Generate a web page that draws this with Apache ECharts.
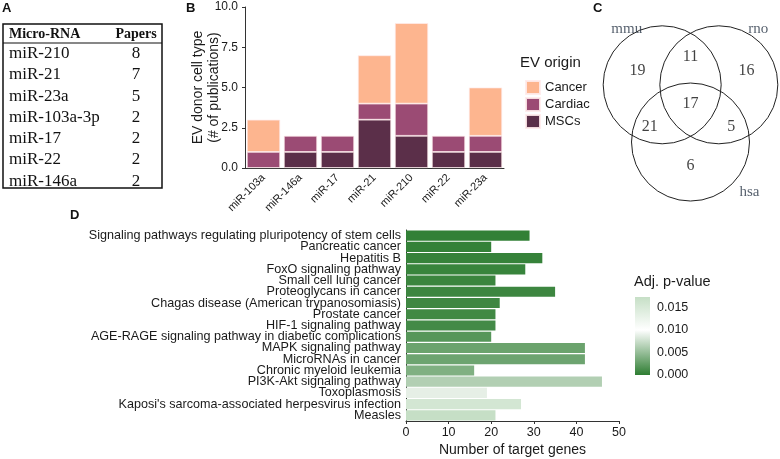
<!DOCTYPE html>
<html>
<head>
<meta charset="utf-8">
<script src="https://cdn.jsdelivr.net/npm/echarts/dist/echarts.min.js"></script>
<style>
  html, body { margin: 0; padding: 0; background: #fff; }
  #chart { width: 780px; height: 459px; }
</style>
</head>
<body>
<div id="chart"></div>
<script>
// panel A - table
const tableNames = ['miR-210', 'miR-21', 'miR-23a', 'miR-103a-3p', 'miR-17', 'miR-22', 'miR-146a'];
const tablePapers = [8, 7, 5, 2, 2, 2, 2];

// panel B - stacked bars
const bCategories = ['miR-103a', 'miR-146a', 'miR-17', 'miR-21', 'miR-210', 'miR-22', 'miR-23a'];
const bMSCs = [0, 1, 1, 3, 2, 1, 1];
const bCardiac = [1, 1, 1, 1, 2, 1, 1];
const bCancer = [2, 0, 0, 3, 5, 0, 3];

// panel C - venn
const vennSets = ['mmu', 'rno', 'hsa'];
const vennCx = [-0.48, 0.48, 0];
const vennCy = [0, 0, -0.97];
const vennR = [1, 1, 1];
const vennSetLabelX = [-1.08, 1.15, 1.0];
const vennSetLabelY = [0.95, 0.95, -1.82];
const vennCounts = [19, 11, 16, 17, 21, 5, 6];
const vennCountX = [-0.9, 0, 0.95, 0, -0.69, 0.69, 0];
const vennCountY = [0.24, 0.48, 0.24, -0.33, -0.71, -0.71, -1.37];

// panel D - KEGG pathways
const pathways = [
  'Signaling pathways regulating pluripotency of stem cells',
  'Pancreatic cancer',
  'Hepatitis B',
  'FoxO signaling pathway',
  'Small cell lung cancer',
  'Proteoglycans in cancer',
  'Chagas disease (American trypanosomiasis)',
  'Prostate cancer',
  'HIF-1 signaling pathway',
  'AGE-RAGE signaling pathway in diabetic complications',
  'MAPK signaling pathway',
  'MicroRNAs in cancer',
  'Chronic myeloid leukemia',
  'PI3K-Akt signaling pathway',
  'Toxoplasmosis',
  "Kaposi's sarcoma-associated herpesvirus infection",
  'Measles'
];
const geneCounts = [29, 20, 32, 28, 21, 35, 22, 21, 21, 20, 42, 42, 16, 46, 19, 27, 21];
const adjP = [0.0002, 0.0003, 0.0004, 0.0005, 0.0006, 0.0007, 0.0008, 0.0009, 0.0010,
  0.0019, 0.0029, 0.0030, 0.0039, 0.0063, 0.0088, 0.0156, 0.0173];

const pMax = Math.max(...adjP);
const pMid = 0.010;
const lowCol = [46, 125, 50], midCol = [255, 255, 255], highCol = [198, 223, 198];

function mix(a, b, t) {
  return 'rgb(' + a.map((v, i) => Math.round(v + (b[i] - v) * t)).join(',') + ')';
}
function pColor(p) {
  if (p <= pMid) return mix(lowCol, midCol, p / pMid);
  return mix(midCol, highCol, (p - pMid) / (pMax - pMid));
}

const chart = echarts.init(document.getElementById('chart'));
const txt = '#1a1a1a';
const axisLine = { show: true, lineStyle: { color: '#333', width: 1 } };
const noZero = arr => arr.map(v => v || null);
const barBorder = { borderColor: 'rgba(255,235,235,0.9)', borderWidth: 0.8 };

// table graphics
const tableGraphic = [
  { type: 'rect', shape: { x: 3, y: 24, width: 159, height: 164 },
    style: { fill: 'none', stroke: '#111', lineWidth: 1.5 } },
  { type: 'line', shape: { x1: 3, y1: 43, x2: 162, y2: 43 },
    style: { stroke: '#111', lineWidth: 1.2 } },
  { type: 'text', x: 9, y: 34, style: { text: 'Micro-RNA', fontFamily: 'Liberation Serif', fontWeight: 'bold',
    fontSize: 14, fill: '#111', textVerticalAlign: 'middle' } },
  { type: 'text', x: 136, y: 34, style: { text: 'Papers', fontFamily: 'Liberation Serif', fontWeight: 'bold',
    fontSize: 14, fill: '#111', textAlign: 'center', textVerticalAlign: 'middle' } }
];
tableNames.forEach((n, i) => {
  const y = 53.5 + i * 21.3;
  tableGraphic.push({ type: 'text', x: 9, y: y, style: { text: n, fontFamily: 'Liberation Serif',
    fontSize: 17, fill: '#111', textVerticalAlign: 'middle' } });
  tableGraphic.push({ type: 'text', x: 136, y: y, style: { text: String(tablePapers[i]), fontFamily: 'Liberation Serif',
    fontSize: 17, fill: '#111', textAlign: 'center', textVerticalAlign: 'middle' } });
});

const letter = (t, x, y) => ({ type: 'text', x: x, y: y, style: { text: t, fontFamily: 'Arial',
  fontWeight: 'bold', fontSize: 13, fill: '#111' } });

const option = {
  backgroundColor: '#fff',
  animation: false,
  textStyle: { fontFamily: 'Arial' },
  graphic: tableGraphic.concat([
    letter('A', 2, 2), letter('B', 186, 2), letter('C', 593, 2), letter('D', 70, 209),
    { type: 'text', x: 520, y: 63, style: { text: 'EV origin', fontFamily: 'Arial', fontSize: 15,
      fill: txt, textVerticalAlign: 'middle' } },
    { type: 'text', x: 634, y: 282, style: { text: 'Adj. p-value', fontFamily: 'Arial', fontSize: 14.5,
      fill: txt, textVerticalAlign: 'middle' } }
  ]),
  legend: {
    data: ['Cancer', 'Cardiac', 'MSCs'],
    orient: 'vertical', left: 520, top: 75,
    icon: 'rect', itemWidth: 14, itemHeight: 13, itemGap: 2,
    textStyle: { fontSize: 13, color: txt },
    selectedMode: false
  },
  grid: [
    { left: 245, top: 7, width: 259, height: 161 },
    { left: 406, top: 230, width: 213, height: 191 },
    { left: 635, top: 297, width: 15, height: 78 },
    { left: 602, top: 14, width: 177, height: 200.6 }
  ],
  xAxis: [
    { gridIndex: 0, type: 'category', data: bCategories, axisLine: axisLine,
      axisTick: { alignWithLabel: true, length: 3, lineStyle: { color: '#333' } },
      axisLabel: { rotate: 45, interval: 0, fontSize: 11, color: txt, margin: 8 } },
    { gridIndex: 1, type: 'value', min: 0, max: 50, interval: 10, axisLine: axisLine,
      axisTick: { show: true, length: 3, lineStyle: { color: '#333' } }, splitLine: { show: false },
      axisLabel: { fontSize: 12.5, color: txt, margin: 5 },
      name: 'Number of target genes', nameLocation: 'middle', nameGap: 22, nameMoveOverlap: false,
      nameTextStyle: { fontSize: 14, color: txt } },
    { gridIndex: 2, type: 'category', data: ['p'], show: false },
    { gridIndex: 3, type: 'value', min: -1.5, max: 1.5, show: false }
  ],
  yAxis: [
    { gridIndex: 0, type: 'value', min: 0, max: 10, interval: 2.5, axisLine: axisLine,
      axisTick: { show: true, length: 3, lineStyle: { color: '#333' } }, splitLine: { show: false },
      axisLabel: { fontSize: 12, color: txt, margin: 7, formatter: v => v.toFixed(1) },
      name: 'EV donor cell type\n(# of publications)', nameLocation: 'middle', nameRotate: 90, nameGap: 23,
      nameMoveOverlap: false,
      nameTextStyle: { fontSize: 14, color: txt, lineHeight: 16 } },
    { gridIndex: 1, type: 'category', data: pathways, inverse: true, axisLine: axisLine,
      axisTick: { alignWithLabel: true, length: 3, lineStyle: { color: '#333' } },
      axisLabel: { interval: 0, fontSize: 12.6, color: txt, margin: 5 } },
    { gridIndex: 2, type: 'value', min: 0, max: pMax, interval: 0.005, position: 'right',
      axisLine: { show: false }, axisTick: { show: false }, splitLine: { show: false },
      axisLabel: { fontSize: 12.5, color: txt, margin: 7, showMaxLabel: false, formatter: v => v.toFixed(3) } },
    { gridIndex: 3, type: 'value', min: -2.2, max: 1.2, show: false }
  ],
  series: [
    { name: 'MSCs', type: 'bar', stack: 'b', xAxisIndex: 0, yAxisIndex: 0, barCategoryGap: '10%',
      data: noZero(bMSCs), itemStyle: Object.assign({ color: '#5b2f49' }, barBorder) },
    { name: 'Cardiac', type: 'bar', stack: 'b', xAxisIndex: 0, yAxisIndex: 0,
      data: noZero(bCardiac), itemStyle: Object.assign({ color: '#9b4b74' }, barBorder) },
    { name: 'Cancer', type: 'bar', stack: 'b', xAxisIndex: 0, yAxisIndex: 0,
      data: noZero(bCancer), itemStyle: Object.assign({ color: '#fdb58f' }, barBorder) },
    { type: 'bar', xAxisIndex: 1, yAxisIndex: 1, barCategoryGap: '10%',
      data: geneCounts.map((v, i) => ({ value: v, itemStyle: { color: pColor(adjP[i]) } })) },
    { type: 'bar', xAxisIndex: 2, yAxisIndex: 2, barWidth: 15, silent: true,
      data: [pMax],
      itemStyle: { color: new echarts.graphic.LinearGradient(0, 0, 0, 1, [
        { offset: 0, color: pColor(pMax) },
        { offset: 1 - pMid / pMax, color: pColor(pMid) },
        { offset: 1, color: pColor(0) }
      ]) } },
    { type: 'custom', xAxisIndex: 3, yAxisIndex: 3, silent: true,
      data: vennCx.map((x, i) => [x, vennCy[i], vennR[i]]),
      renderItem: (params, api) => {
        const c = api.coord([api.value(0), api.value(1)]);
        const r = api.size([api.value(2), 0])[0];
        return { type: 'circle', shape: { cx: c[0], cy: c[1], r: r },
          style: { fill: 'none', stroke: '#222', lineWidth: 1 } };
      } },
    { type: 'scatter', xAxisIndex: 3, yAxisIndex: 3, symbolSize: 0, silent: true,
      data: vennCounts.map((c, i) => [vennCountX[i], vennCountY[i], c]),
      label: { show: true, position: 'inside', formatter: p => p.value[2],
        fontFamily: 'Liberation Serif', fontSize: 16, color: '#111' } },
    { type: 'scatter', xAxisIndex: 3, yAxisIndex: 3, symbolSize: 0, silent: true,
      data: vennSets.map((s, i) => [vennSetLabelX[i], vennSetLabelY[i], s]),
      label: { show: true, position: 'inside', formatter: p => p.value[2],
        fontFamily: 'Liberation Serif', fontSize: 15, color: '#2c3848' } }
  ]
};

chart.setOption(option);
</script>
</body>
</html>
